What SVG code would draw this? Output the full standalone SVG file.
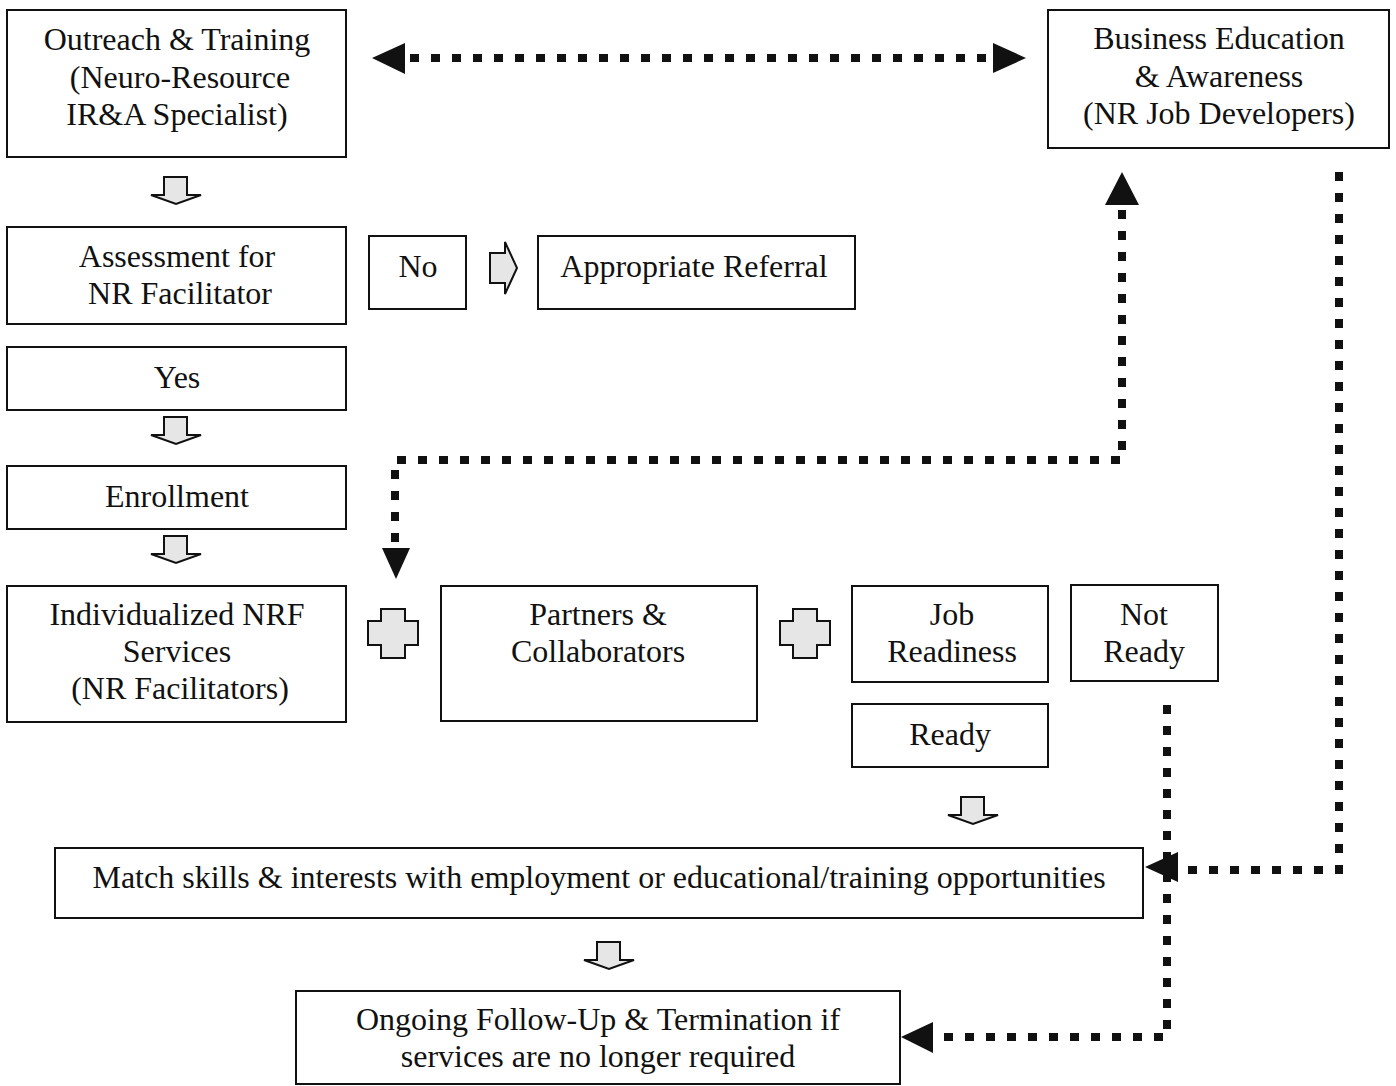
<svg xmlns="http://www.w3.org/2000/svg" width="1396" height="1086" viewBox="0 0 1396 1086">
<style>
.box{fill:#fff;stroke:#111;stroke-width:2}
.t{font-family:"Liberation Serif","Times New Roman",serif;font-size:32px;fill:#111;text-anchor:middle}
.dash{fill:none;stroke:#111;stroke-width:8;stroke-dasharray:9 12}
.head{fill:#111}
.blk{fill:#e6e6e6;stroke:#111;stroke-width:2;stroke-linejoin:miter}
</style>
<defs>
<path id="down" d="M-12,-13 H11 V5 H25 L0,14 L-25,5 H-12 Z"/>
</defs>
<rect width="1396" height="1086" fill="#fff"/>

<g id="n-outreach"><rect class="box" x="7" y="10" width="339" height="147"/>
<text class="t" x="177" y="50">Outreach &amp; Training</text><text class="t" x="180" y="88">(Neuro-Resource</text><text class="t" x="177" y="125">IR&amp;A Specialist)</text></g>
<g id="n-business"><rect class="box" x="1048" y="10" width="341" height="138"/>
<text class="t" x="1219" y="49">Business Education</text><text class="t" x="1219" y="87">&amp; Awareness</text><text class="t" x="1219" y="124">(NR Job Developers)</text></g>
<g id="n-assessment"><rect class="box" x="7" y="227" width="339" height="97"/>
<text class="t" x="177" y="267">Assessment for</text><text class="t" x="180" y="304">NR Facilitator</text></g>
<g id="n-no"><rect class="box" x="369" y="236" width="97" height="73"/><text class="t" x="418" y="277">No</text></g>
<g id="n-referral"><rect class="box" x="538" y="236" width="317" height="73"/><text class="t" x="694" y="277">Appropriate Referral</text></g>
<g id="n-yes"><rect class="box" x="7" y="347" width="339" height="63"/><text class="t" x="177" y="388">Yes</text></g>
<g id="n-enrollment"><rect class="box" x="7" y="466" width="339" height="63"/><text class="t" x="177" y="507">Enrollment</text></g>
<g id="n-individualized"><rect class="box" x="7" y="586" width="339" height="136"/>
<text class="t" x="177" y="625">Individualized NRF</text><text class="t" x="177" y="662">Services</text><text class="t" x="180" y="699">(NR Facilitators)</text></g>
<g id="n-partners"><rect class="box" x="441" y="586" width="316" height="135"/>
<text class="t" x="598" y="625">Partners &amp;</text><text class="t" x="598" y="662">Collaborators</text></g>
<g id="n-jobready"><rect class="box" x="852" y="586" width="196" height="96"/>
<text class="t" x="952" y="625">Job</text><text class="t" x="952" y="662">Readiness</text></g>
<g id="n-notready"><rect class="box" x="1071" y="585" width="147" height="96"/>
<text class="t" x="1144" y="625">Not</text><text class="t" x="1144" y="662">Ready</text></g>
<g id="n-ready"><rect class="box" x="852" y="704" width="196" height="63"/><text class="t" x="950" y="745">Ready</text></g>
<g id="n-match"><rect class="box" x="55" y="848" width="1088" height="70"/><text class="t" x="599" y="888">Match skills &amp; interests with employment or educational/training opportunities</text></g>
<g id="n-ongoing"><rect class="box" x="296" y="991" width="604" height="93"/>
<text class="t" x="598" y="1030">Ongoing Follow-Up &amp; Termination if</text><text class="t" x="598" y="1067">services are no longer required</text></g>

<g id="connectors">
<use href="#down" class="blk" x="176" y="190"/>
<use href="#down" class="blk" x="176" y="430"/>
<use href="#down" class="blk" x="176" y="549"/>
<use href="#down" class="blk" x="973" y="810"/>
<use href="#down" class="blk" x="609" y="955"/>
<path class="blk" d="M490,253 H505 V242 L517,268 L505,294 V283 H490 Z"/>
<path class="blk" d="M381,609 H405 V621 H418 V645 H405 V658 H381 V645 H368 V621 H381 Z"/>
<path class="blk" d="M793,609 H817 V621 H830 V645 H817 V658 H793 V645 H780 V621 H793 Z"/>

<path class="dash" d="M410,58 H992"/>
<path class="head" d="M372,58 L405,43 L405,74 Z"/>
<path class="head" d="M1026,58 L993,43 L993,73 Z"/>

<path class="dash" d="M1339,172 V870 H1180"/>
<path class="head" d="M1145,867 L1178,852 L1178,882 Z"/>

<path class="dash" d="M1122,210 V460 H395 V546"/>
<path class="head" d="M1122,172 L1139,205 L1105,205 Z"/>
<path class="head" d="M396,579 L382,548 L410,548 Z"/>

<path class="dash" d="M1167,705 V1037 H936"/>
<path class="head" d="M901,1037 L933,1022 L933,1053 Z"/>
</g>
</svg>
